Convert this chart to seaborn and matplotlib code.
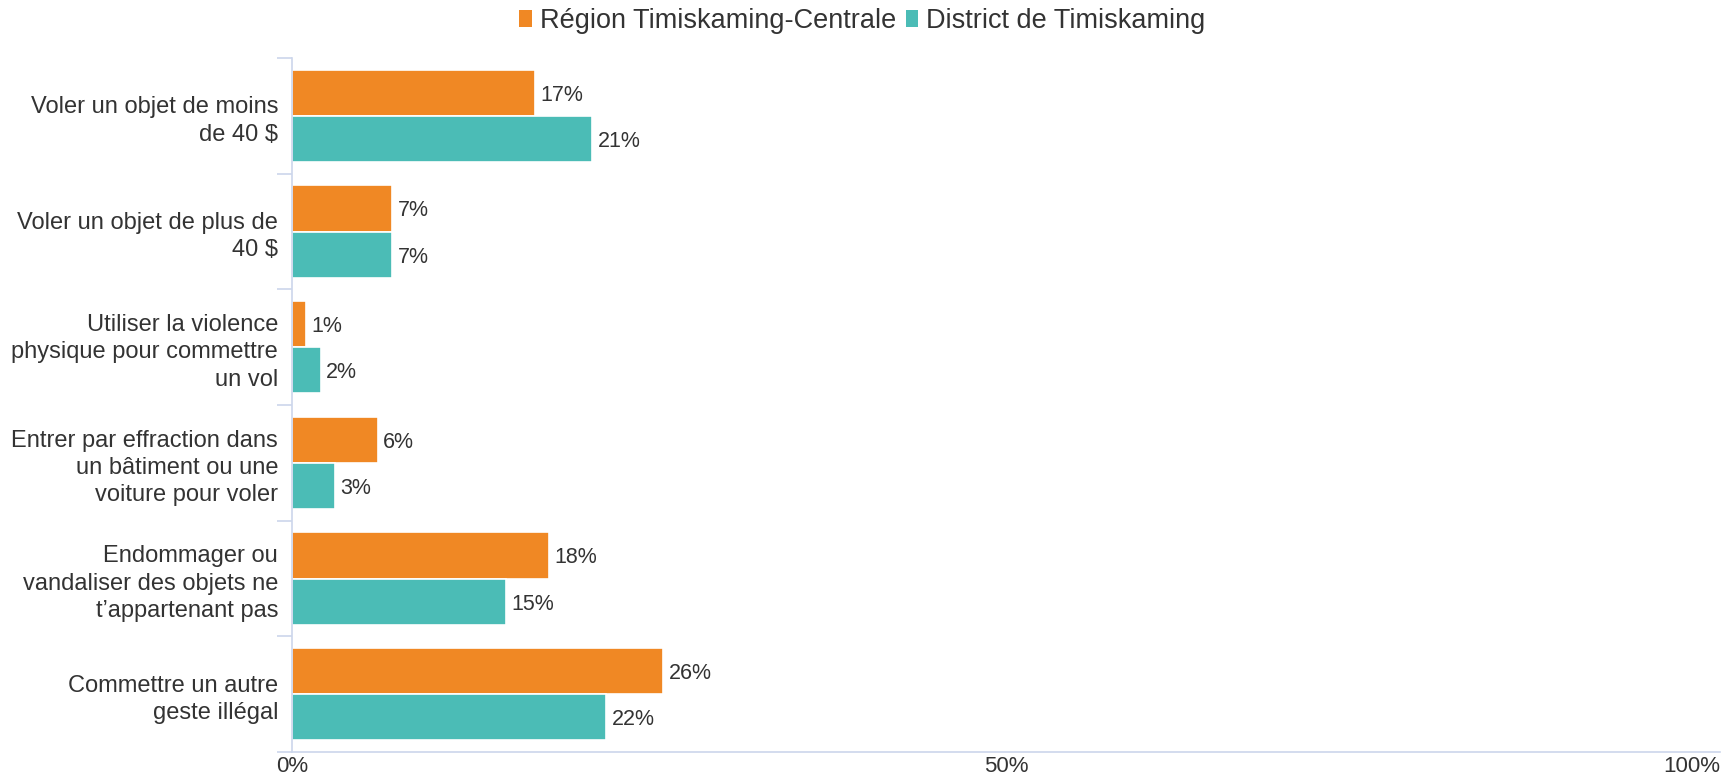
import matplotlib
matplotlib.use("Agg")
import matplotlib.pyplot as plt
import seaborn as sns
import pandas as pd
from matplotlib.patches import Patch

categories = [
    "Voler un objet de moins\nde 40 \\$",
    "Voler un objet de plus de\n40 \\$",
    "Utiliser la violence\nphysique pour commettre\nun vol",
    "Entrer par effraction dans\nun bâtiment ou une\nvoiture pour voler",
    "Endommager ou\nvandaliser des objets ne\nt’appartenant pas",
    "Commettre un autre\ngeste illégal",
]
series_names = ["Région Timiskaming-Centrale", "District de Timiskaming"]
region_values = [17, 7, 1, 6, 18, 26]
district_values = [21, 7, 2, 3, 15, 22]
x_ticks = [0, 50, 100]
x_tick_labels = ["0%", "50%", "100%"]

colors = ["#F08824", "#4BBCB6"]
axis_color = "#ccd6eb"
text_color = "#333333"

df = pd.DataFrame({
    "categorie": categories * 2,
    "serie": [series_names[0]] * len(categories) + [series_names[1]] * len(categories),
    "valeur": region_values + district_values,
})

sns.set_theme(style="white")
plt.rcParams["font.family"] = ["Liberation Sans", "DejaVu Sans"]

fig = plt.figure(figsize=(17.35, 7.75), dpi=100)
ax = fig.add_axes([292 / 1735, 1 - 752 / 775, (1720 - 292) / 1735, (752 - 58) / 775])

sns.barplot(
    data=df, y="categorie", x="valeur", hue="serie", order=categories,
    hue_order=series_names, palette=colors, orient="h", width=0.8,
    edgecolor="white", linewidth=1.2, saturation=1, ax=ax, legend=False,
)

for container in ax.containers:
    labels = ax.bar_label(container, fmt=lambda v: f"{v:g}%", padding=4,
                          fontsize=15.5, color=text_color)
    for t in labels:
        t.set_verticalalignment("center_baseline")

ax.set_xlim(0, 100)
ax.set_ylim(len(categories) - 0.5, -0.5)
ax.set_xlabel("")
ax.set_ylabel("")

ax.set_xticks(x_ticks)
ax.set_xticklabels(x_tick_labels, fontsize=16, color=text_color)
ax.get_xticklabels()[-1].set_horizontalalignment("right")
ax.tick_params(axis="x", length=0, pad=3)

ax.set_yticks(range(len(categories)))
ax.set_yticklabels(categories, fontsize=17, color=text_color, linespacing=1.31)
ax.tick_params(axis="y", which="major", length=0, pad=10)
ax.set_yticks([i - 0.5 for i in range(len(categories) + 1)], minor=True)
ax.tick_params(axis="y", which="minor", length=11, width=1.2, color=axis_color, left=True)

for side in ["top", "right"]:
    ax.spines[side].set_visible(False)
for side in ["left", "bottom"]:
    ax.spines[side].set_color(axis_color)
    ax.spines[side].set_linewidth(1.2)
ax.grid(False)

handles = [Patch(facecolor=c, edgecolor="none") for c in colors]
fig.legend(handles, series_names, loc="center", bbox_to_anchor=(0.497, 1 - 21 / 775),
           ncol=2, frameon=False, fontsize=19.5, handlelength=0.45, handleheight=0.62,
           handletextpad=0.3, columnspacing=0.35, labelcolor=text_color)

fig.savefig("out.png", dpi=100, facecolor="white")
